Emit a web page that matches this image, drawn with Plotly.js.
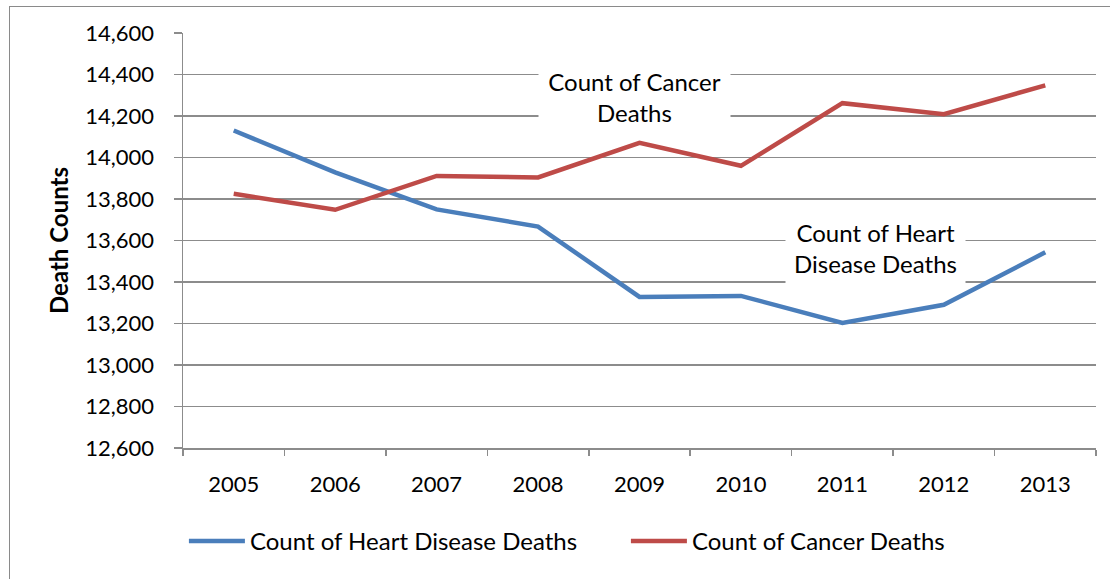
<!DOCTYPE html>
<html>
<head>
<meta charset="utf-8">
<script src="https://cdn.plot.ly/plotly-3.0.1.min.js"></script>
<style>
  html, body { margin: 0; padding: 0; background: #ffffff; }
  #wrap { position: relative; width: 1110px; height: 579px; overflow: hidden; }
  #chart { width: 1110px; height: 579px; }
  #frame { position: absolute; left: 9px; top: 6px; width: 1200px; height: 700px;
           border-left: 1.5px solid #8a8a8a; border-top: 1.5px solid #8a8a8a; pointer-events: none; }
</style>
</head>
<body>
<div id="wrap">
  <div id="chart"></div>
  <div id="frame"></div>
</div>
<script>
const years = ['2005', '2006', '2007', '2008', '2009', '2010', '2011', '2012', '2013'];
const heartDeaths = [14130, 13928, 13750, 13667, 13328, 13333, 13203, 13290, 13543];
const cancerDeaths = [13825, 13748, 13911, 13904, 14071, 13960, 14262, 14209, 14348];
const seriesNames = ['Count of Heart Disease Deaths', 'Count of Cancer Deaths'];
const yTitle = 'Death Counts';
const cancerLabel = 'Count of Cancer<br>Deaths';
const heartLabel = 'Count of Heart<br>Disease Deaths';

const FONT = 'Lato, "Open Sans", sans-serif';
const GRID = '#8c8c8c';

const traces = [
  { x: years, y: heartDeaths, name: seriesNames[0], type: 'scatter', mode: 'lines',
    line: { color: '#4A7EBB', width: 4.5 } },
  { x: years, y: cancerDeaths, name: seriesNames[1], type: 'scatter', mode: 'lines',
    line: { color: '#BE4B48', width: 4.5 } }
];

const layout = {
  width: 1110, height: 579,
  margin: { l: 183, r: 14, t: 33, b: 131 },
  paper_bgcolor: '#ffffff', plot_bgcolor: '#ffffff',
  font: { family: FONT, size: 22, color: '#000000' },
  showlegend: true,
  legend: { orientation: 'h', x: 0.001, xanchor: 'left', y: -0.225, yanchor: 'middle',
            font: { family: FONT, size: 24, color: '#000' }, itemwidth: 56,
            entrywidth: 371, entrywidthmode: 'pixels',
            bgcolor: 'rgba(0,0,0,0)' },
  xaxis: {
    type: 'category', range: [-0.5, years.length - 0.5], tickson: 'boundaries', ticks: 'outside', ticklen: 6,
    tickwidth: 1.5, tickcolor: GRID,
    showline: true, linecolor: GRID, linewidth: 1.5, showgrid: false, zeroline: false,
    ticklabelstandoff: 16, tickfont: { family: FONT, size: 22, color: '#000' }, fixedrange: true
  },
  yaxis: {
    range: [12600, 14600], dtick: 200, tick0: 12600, tickformat: ',d',
    ticks: 'outside', ticklen: 8, tickwidth: 1.5, tickcolor: GRID,
    showline: true, linecolor: GRID, linewidth: 1.5,
    showgrid: true, gridcolor: GRID, gridwidth: 1.5, zeroline: false,
    ticklabelstandoff: 15, tickfont: { family: FONT, size: 22, color: '#000' },
    title: { text: '<b>' + yTitle + '</b>', font: { family: FONT, size: 24, color: '#000' }, standoff: 10 },
    fixedrange: true
  },
  annotations: [
    { xref: 'paper', yref: 'paper', x: 0.494, y: 0.845, xanchor: 'center', yanchor: 'middle',
      text: cancerLabel, showarrow: false, bgcolor: '#ffffff', width: 191, height: 70, borderpad: 0,
      font: { family: FONT, size: 24, color: '#000' }, align: 'center' },
    { xref: 'paper', yref: 'paper', x: 0.758, y: 0.482, xanchor: 'center', yanchor: 'middle',
      text: heartLabel, showarrow: false, bgcolor: '#ffffff', width: 179, height: 80, borderpad: 0,
      font: { family: FONT, size: 24, color: '#000' }, align: 'center' }
  ]
};

Plotly.newPlot('chart', traces, layout, { displayModeBar: false, staticPlot: true });
</script>
</body>
</html>
